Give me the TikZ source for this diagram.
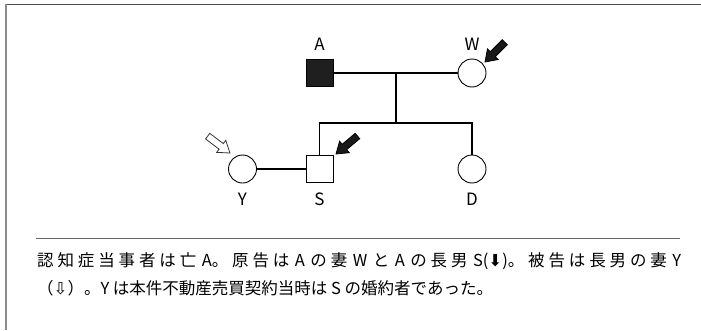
\documentclass[tikz,border=0pt]{standalone}
\usepackage{fontspec}
\setmainfont{Noto Sans CJK JP}
\newfontfamily\symfont{DejaVu Sans}
\begin{document}
\begin{tikzpicture}[x=1pt,y=-1pt,
  person/.style={draw=black,line width=0.9pt,minimum size=27pt,inner sep=0pt},
  male/.style={person,rectangle},
  female/.style={person,circle,minimum size=28pt},
  lbl/.style={inner sep=0pt,font=\fontsize{17}{17}\selectfont},
  rel/.style={line width=1.4pt,black},
  frame/.style={line width=1.3pt,black!70},
  barrow/.pic={\draw[pic actions,line width=0.8pt] (0,0)--(-11,-7.5)--(-11,-3.5)--(-28,-3.5)--(-28,3.5)--(-11,3.5)--(-11,7.5)--cycle;},
  txt/.style={anchor=west,inner sep=0pt,font=\fontsize{16.5}{16.5}\selectfont}]
\useasboundingbox (0,0) rectangle (701,330);
% frame
\draw[frame] (5,4.5) -- (701,4.5);
\draw[line width=1.6pt,black!45] (6,4) -- (6,330);
% persons
\node[male,fill=black!88] (A) at (319.5,73) {};
\node[female,fill=white] (W) at (472,73) {};
\node[male,fill=white] (S) at (319.5,169) {};
\node[female,fill=white] (Y) at (242.5,169) {};
\node[female,fill=white] (D) at (472,169) {};
% labels
\node[lbl] (lA) at (319.5,44) {A};
\node[lbl] (lW) at (472,44) {W};
\node[lbl] (lY) at (242.5,199) {Y};
\node[lbl] (lS) at (319.5,199) {S};
\node[lbl] (lD) at (472,199) {D};
% relations
\coordinate (mid) at (396,73);
\coordinate (sibM) at (396,123);
\draw[rel] (A) -- (W);
\draw[rel] (mid) -- (sibM);
\draw[rel] (S) |- (sibM) -| (D);
\draw[rel] (Y) -- (S);
% arrows
\pic[rotate=225,fill=black!90,draw=black] at (485,62) {barrow};
\pic[rotate=220,fill=black!90,draw=black] at (336,154) {barrow};
\pic[rotate=-37,fill=white,draw=black!80] at (230,153) {barrow};
% separator and text
\coordinate (sepL) at (36,238.7);
\coordinate (sepR) at (680,238.7);
\draw[line width=1.2pt,black!60] (sepL) -- (sepR);
\node[txt] (t1) at (37,261) {\parbox{644pt}{\XeTeXlinebreaklocale "ja"\XeTeXlinebreakskip=0pt plus 4pt\parfillskip=0pt\parindent=0pt 認知症当事者は亡 A。原告は A の妻 W と A の長男 S({\symfont ⬇})。被告は長男の妻 Y}};
\node[txt] (t2) at (37,288) {（{\symfont ⇩}）。Y は本件不動産売買契約当時は S の婚約者であった。};
\end{tikzpicture}
\end{document}
